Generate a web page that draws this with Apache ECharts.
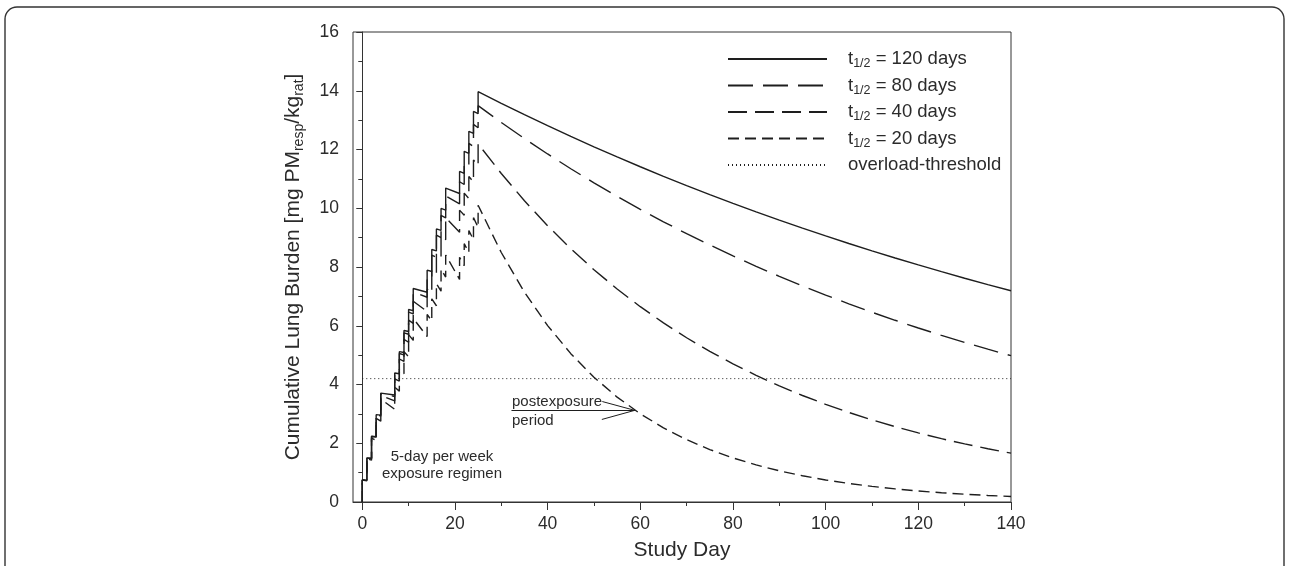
<!DOCTYPE html>
<html><head><meta charset="utf-8">
<script src="https://cdn.jsdelivr.net/npm/echarts@6/dist/echarts.min.js"></script>
<style>html,body{margin:0;padding:0;background:#fff}#c{width:1290px;height:566px}</style>
</head><body><div id="c"></div>
<script>
// ---- data ----
// Exposure phase: each deposit day appears twice (level just before and just after the daily dose)
const exposureDays = [0,0,1,1,2,2,3,3,4,4,7,7,8,8,9,9,10,10,11,11,14,14,15,15,16,16,17,17,18,18,21,21,22,22,23,23,24,24,25,25];
const decayDays = [30,35,40,45,50,55,60,65,70,75,80,85,90,95,100,105,110,115,120,125,130,135,140];

const t120Exposure = [0,0.75,0.746,1.496,1.487,2.237,2.224,2.974,2.957,3.707,3.643,4.393,4.368,5.118,5.089,5.839,5.805,6.555,6.517,7.267,7.142,7.892,7.847,8.597,8.547,9.297,9.244,9.994,9.936,10.686,10.503,11.253,11.188,11.938,11.869,12.619,12.547,13.297,13.220,13.970];
const t120Decay = [13.572,13.186,12.811,12.446,12.092,11.747,11.413,11.088,10.772,10.466,10.168,9.878,9.597,9.324,9.059,8.801,8.550,8.307,8.070,7.841,7.617,7.401,7.190];

const t80Exposure = [0,0.75,0.744,1.494,1.481,2.231,2.211,2.961,2.936,3.686,3.591,4.341,4.304,5.054,5.010,5.760,5.711,6.461,6.405,7.155,6.971,7.721,7.655,8.405,8.332,9.082,9.004,9.754,9.670,10.420,10.152,10.902,10.808,11.558,11.458,12.208,12.103,12.853,12.742,13.492];
const t80Decay = [12.920,12.372,11.848,11.345,10.864,10.404,9.963,9.540,9.136,8.749,8.378,8.022,7.682,7.357,7.045,6.746,6.460,6.186,5.924,5.673,5.432,5.202,4.981];

const t40Exposure = [0,0.75,0.737,1.487,1.462,2.212,2.174,2.924,2.873,3.623,3.440,4.190,4.118,4.868,4.784,5.534,5.439,6.189,6.083,6.833,6.487,7.237,7.112,7.862,7.727,8.477,8.332,9.082,8.926,9.676,9.186,9.936,9.765,10.515,10.334,11.084,10.894,11.644,11.444,12.194];
const t40Decay = [11.182,10.254,9.403,8.623,7.907,7.251,6.649,6.097,5.591,5.127,4.702,4.311,3.954,3.626,3.325,3.049,2.796,2.564,2.351,2.156,1.977,1.813,1.662];

const t20Exposure = [0,0.75,0.724,1.474,1.424,2.174,2.100,2.850,2.753,3.503,3.157,3.907,3.774,4.524,4.370,5.120,4.946,5.696,5.502,6.252,5.634,6.384,6.167,6.917,6.681,7.431,7.178,7.928,7.658,8.408,7.578,8.328,8.044,8.794,8.494,9.244,8.930,9.680,9.350,10.100];
const t20Decay = [8.493,7.142,6.005,5.050,4.247,3.571,3.003,2.525,2.123,1.785,1.501,1.263,1.062,0.893,0.751,0.631,0.531,0.446,0.375,0.316,0.265,0.223,0.188];

const thresholdDays = [0, 140];
const thresholdValue = [4.2, 4.2];

const seriesNames = ['t1/2 = 120 days','t1/2 = 80 days','t1/2 = 40 days','t1/2 = 20 days','overload-threshold'];
const xMajorTicks = [0,20,40,60,80,100,120,140];
const xMinorTicks = [10,30,50,70,90,110,130];

// annotation pointer ("postexposure period") in data units
const pointerLine = [[32.2,3.12],[58.8,3.12]];
const pointerUpper = [[51.8,3.42],[58.8,3.12]];
const pointerLower = [[51.7,2.81],[58.8,3.12]];

function curve(expY, decY){
  return exposureDays.map((d,i)=>[d, expY[i]]).concat(decayDays.map((d,i)=>[d, decY[i]]));
}

const FONT = '"Liberation Sans", Arial, Helvetica, sans-serif';
const INK = '#1e1e1e';
const TXT = '#2b2b2b';

const chart = echarts.init(document.getElementById('c'), null, {renderer:'canvas'});
const lineBase = {type:'line', showSymbol:false, symbol:'none', animation:false, silent:true, z:3};

chart.setOption({
  backgroundColor:'#fff',
  animation:false,
  textStyle:{fontFamily:FONT},
  grid:{left:353, right:279, top:32, bottom:63, show:true, borderColor:'#333', borderWidth:1, backgroundColor:'transparent'},
  legend:{
    orient:'vertical', left:722, top:44,
    itemWidth:99, itemHeight:20, itemGap:5,
    itemStyle:{opacity:0},
    selectedMode:false,
    data:seriesNames,
    textStyle:{fontFamily:FONT, fontSize:18.5, color:TXT, padding:[0,0,0,16], lineHeight:20,
      rich:{sub:{fontFamily:FONT, fontSize:12.5, padding:[10,0,0,0], color:TXT}}},
    formatter:n=>n.replace('t1/2','t{sub|1/2}')
  },
  xAxis:[{
    type:'value', min:-2, max:140, position:'bottom',
    name:'Study Day', nameLocation:'middle', nameGap:38,
    nameTextStyle:{fontFamily:FONT, fontSize:21, color:TXT},
    axisLine:{show:true, onZero:false, lineStyle:{color:'#333', width:1}},
    axisTick:{show:true, inside:false, length:8, customValues:xMajorTicks, lineStyle:{color:'#333'}},
    axisLabel:{show:true, margin:13, fontFamily:FONT, fontSize:17.5, color:TXT, customValues:xMajorTicks},
    splitLine:{show:false}
  },{
    type:'value', min:-2, max:140, position:'bottom',
    axisLine:{show:false, onZero:false},
    axisTick:{show:true, inside:false, length:4, customValues:xMinorTicks, lineStyle:{color:'#333'}},
    axisLabel:{show:false},
    splitLine:{show:false}
  }],
  yAxis:{
    type:'value', min:0, max:16, interval:2,
    name:'Cumulative Lung Burden [mg PM{sub|resp}/kg{sub|rat}]',
    nameLocation:'middle', nameGap:48, nameRotate:90,
    nameTextStyle:{fontFamily:FONT, fontSize:21, color:TXT, lineHeight:24,
      rich:{sub:{fontFamily:FONT, fontSize:14, padding:[12,0,0,0], color:TXT}}},
    axisLine:{show:true, lineStyle:{color:'#333', width:1}},
    axisTick:{show:true, inside:false, length:6, lineStyle:{color:'#333'}},
    minorTick:{show:true, splitNumber:2, length:4, lineStyle:{color:'#333'}},
    axisLabel:{margin:14, fontFamily:FONT, fontSize:17.5, color:TXT},
    splitLine:{show:false}
  },
  series:[
    Object.assign({}, lineBase, {name:seriesNames[0], data:curve(t120Exposure,t120Decay), lineStyle:{color:INK, width:1.4, type:'solid'}}),
    Object.assign({}, lineBase, {name:seriesNames[1], data:curve(t80Exposure,t80Decay), lineStyle:{color:INK, width:1.4, type:[25,10]}}),
    Object.assign({}, lineBase, {name:seriesNames[2], data:curve(t40Exposure,t40Decay), lineStyle:{color:INK, width:1.4, type:[19,8]}}),
    Object.assign({}, lineBase, {name:seriesNames[3], data:curve(t20Exposure,t20Decay), lineStyle:{color:INK, width:1.4, type:[11,6]},
      markLine:{silent:true, symbol:'none', animation:false, label:{show:false},
        lineStyle:{color:INK, width:1, type:'solid'},
        data:[
          [{coord:pointerLine[0]},{coord:pointerLine[1]}],
          [{coord:pointerUpper[0]},{coord:pointerUpper[1]}],
          [{coord:pointerLower[0]},{coord:pointerLower[1]}]
        ]}}),
    Object.assign({}, lineBase, {name:seriesNames[4], data:thresholdDays.map((d,i)=>[d,thresholdValue[i]]), lineStyle:{color:INK, width:1, type:[1,3]}})
  ],
  graphic:[
    {type:'rect', silent:true, z:0, shape:{x:5, y:7, width:1279, height:620, r:[12,12,0,0]}, style:{fill:'none', stroke:'#333', lineWidth:1.4}},
    {type:'text', silent:true, z:10, x:442, y:465, style:{text:'5-day per week\nexposure regimen', fontFamily:FONT, fontSize:15, lineHeight:17, fill:TXT, align:'center', verticalAlign:'middle'}},
    {type:'text', silent:true, z:10, x:512, y:402, style:{text:'postexposure', fontFamily:FONT, fontSize:15, fill:TXT, align:'left', verticalAlign:'middle'}},
    {type:'text', silent:true, z:10, x:512, y:421, style:{text:'period', fontFamily:FONT, fontSize:15, fill:TXT, align:'left', verticalAlign:'middle'}}
  ]
});
</script>
</body></html>
